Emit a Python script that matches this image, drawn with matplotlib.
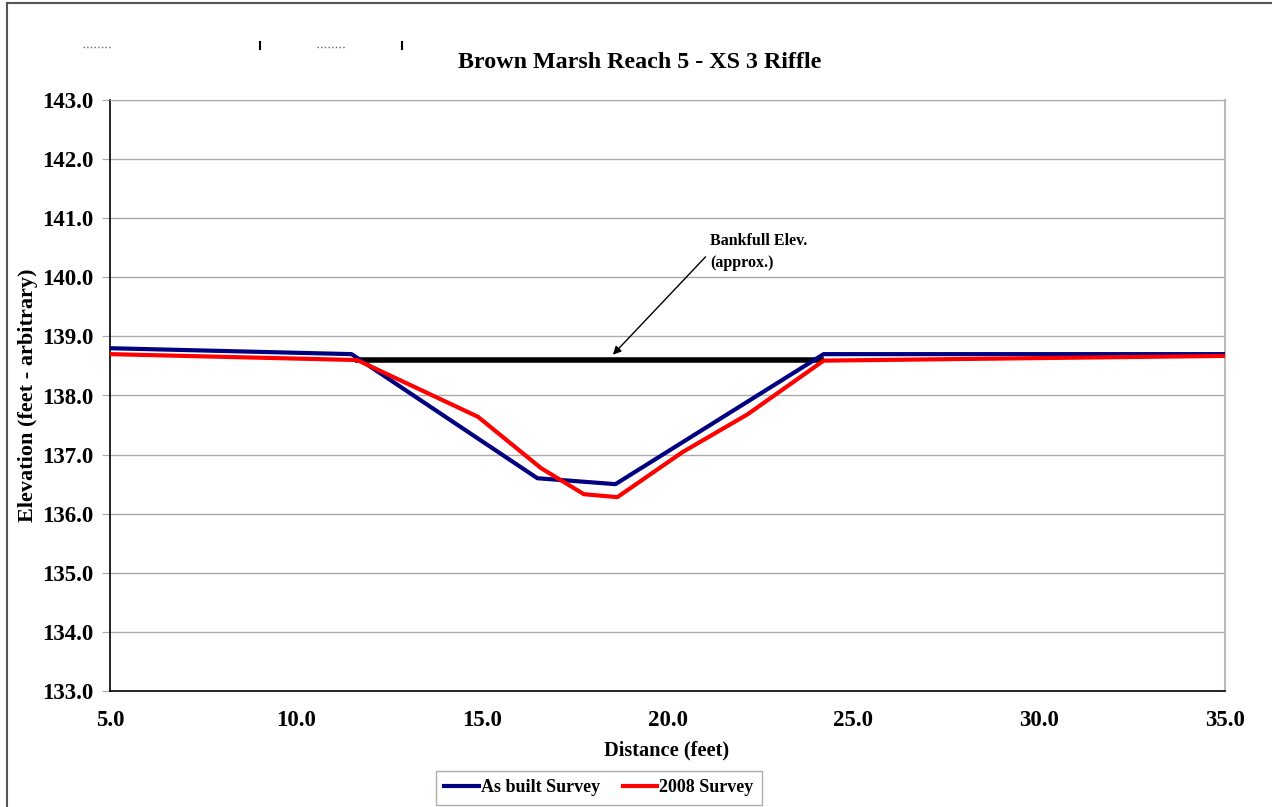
import matplotlib
matplotlib.use('Agg')
import matplotlib.pyplot as plt
from matplotlib.lines import Line2D
from matplotlib.patches import Rectangle

plt.rcParams['font.family'] = 'Liberation Serif'
plt.rcParams['font.weight'] = 'bold'

# 測線データ
asbuilt_x = [5.0, 11.5, 16.5, 18.6, 24.2, 35.0]
asbuilt_y = [138.80, 138.70, 136.60, 136.50, 138.70, 138.70]

survey2008_x = [5.0, 11.65, 14.9, 16.6, 17.75, 18.65, 20.4, 22.15, 24.2, 35.0]
survey2008_y = [138.70, 138.60, 137.64, 136.77, 136.33, 136.28, 137.04, 137.68, 138.59, 138.67]

bankfull_x = [11.6, 24.2]
bankfull_y = [138.6, 138.6]

x_ticks = [5.0, 10.0, 15.0, 20.0, 25.0, 30.0, 35.0]
y_ticks = [133.0, 134.0, 135.0, 136.0, 137.0, 138.0, 139.0, 140.0, 141.0, 142.0, 143.0]

W, H = 1272, 807
fig = plt.figure(figsize=(W / 100, H / 100), dpi=100, facecolor='white')
ax = fig.add_axes([110 / W, 1 - 691 / H, 1115 / W, 591 / H])

# 外枠
fig.add_artist(Rectangle((7 / W, -0.01), 1.02, 1 - 3 / H + 0.01, transform=fig.transFigure,
                         fill=False, edgecolor='#555555', linewidth=1.5))

ax.set_xlim(5, 35)
ax.set_ylim(133, 143)
ax.set_xticks(x_ticks)
ax.set_xticklabels(['%.1f' % v for v in x_ticks])
ax.set_yticks(y_ticks)
ax.set_yticklabels(['%.1f' % v for v in y_ticks])
ax.tick_params(axis='y', direction='out', length=6, color='#aaaaaa', labelsize=16.5, pad=6)
ax.tick_params(axis='x', length=0, labelsize=16.5, pad=14)
ax.grid(axis='y', color='#aaaaaa', linewidth=1.0)
ax.set_axisbelow(True)
ax.spines['left'].set_color('black')
ax.spines['bottom'].set_color('black')
ax.spines['right'].set_color('#bbbbbb')
ax.spines['right'].set_linewidth(1.5)
ax.spines['top'].set_color('#aaaaaa')
for s in ['left', 'bottom']:
    ax.spines[s].set_linewidth(1.2)

ax.plot(bankfull_x, bankfull_y, color='black', linewidth=4, solid_capstyle='butt', zorder=2)
ax.plot(asbuilt_x, asbuilt_y, color='#000080', linewidth=3, label='As built Survey', zorder=3)
ax.plot(survey2008_x, survey2008_y, color='#ff0000', linewidth=3, label='2008 Survey', zorder=4)

ax.annotate('Bankfull Elev.\n(approx.)', xy=(18.53, 138.69), xytext=(21.15, 140.43),
            fontsize=11.5, fontweight='bold', ha='left', va='center', linespacing=1.55,
            arrowprops=dict(arrowstyle='-|>', color='black', lw=1.0, mutation_scale=12,
                            shrinkA=2, shrinkB=0, relpos=(0.0, 0.5)))

fig.text(640 / W, 1 - 62 / H, 'Brown Marsh Reach 5 - XS 3 Riffle', fontsize=17.3,
         fontweight='bold', ha='center', va='center')
ax.set_xlabel('Distance (feet)', fontsize=14.7, fontweight='bold', va='center')
ax.xaxis.set_label_coords((667 - 110) / 1115, (691 - 750) / 591)
ax.set_ylabel('Elevation (feet - arbitrary)', fontsize=16, fontweight='bold', va='center')
ax.yaxis.set_label_coords((28 - 110) / 1115, 0.5)

leg = ax.legend(loc='center', bbox_to_anchor=(599 / W, 1 - 788 / H), bbox_transform=fig.transFigure,
                ncol=2, fontsize=13, frameon=True, fancybox=False, edgecolor='#999999',
                handlelength=1.9, handletextpad=0.1, columnspacing=1.3, borderpad=0.45)
leg.get_frame().set_linewidth(1.0)

# 左上の小さな痕跡
for x0, x1 in [(83, 111), (317, 345)]:
    fig.add_artist(Line2D([x0 / W, x1 / W], [1 - 47 / H] * 2, transform=fig.transFigure,
                          color='#666666', linewidth=1, linestyle=':'))
for xx in [260, 402]:
    fig.add_artist(Line2D([xx / W] * 2, [1 - 42 / H, 1 - 49 / H], transform=fig.transFigure,
                          color='black', linewidth=1.5))

fig.savefig('out.png', dpi=100)
